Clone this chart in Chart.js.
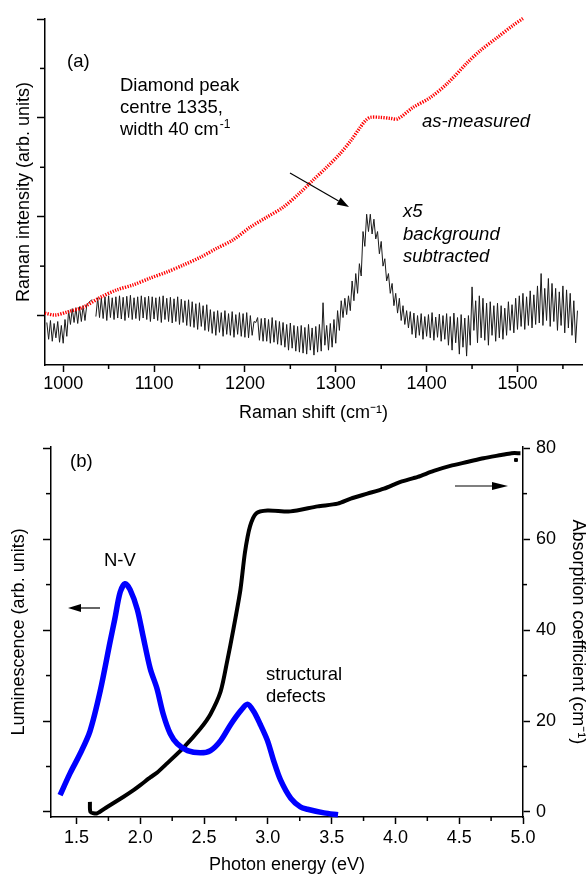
<!DOCTYPE html>
<html><head><meta charset="utf-8">
<script src="https://cdn.jsdelivr.net/npm/chart.js@4.4.1/dist/chart.umd.min.js"></script>
<style>
html,body{margin:0;padding:0;background:#fff;width:586px;height:876px;overflow:hidden}
canvas{position:absolute;left:0}
#c1{top:0}
#c2{top:430px}
</style></head><body>
<canvas id="c1" width="586" height="430"></canvas>
<canvas id="c2" width="586" height="446"></canvas>
<script>
// ---------- Panel (a): Raman ----------
const ramanStart = 982;   // cm-1, first sample
const ramanStep = 2;      // cm-1 between samples
const ramanBgSub = [
  .86,.52,.90,.48,.84,.55,.88,.46,.80,.44,
  .92,.58,1.10,.82,1.14,.86,1.16,.84,1.18,.88,
  1.20,.90,1.22,1.26,1.30,1.32,null,.98,1.36,.96,
  1.36,.94,1.38,.90,1.40,.96,1.36,.92,1.38,.95,
  1.40,.93,1.37,.90,1.39,.96,1.41,.92,1.36,.94,
  1.38,.90,1.40,.95,1.37,.92,1.39,.88,1.38,.93,
  1.36,.90,1.38,.86,1.40,.92,1.35,.88,1.37,.85,
  1.34,.88,1.38,.82,1.33,.86,1.30,.80,1.32,.78,
  1.28,.76,1.24,.72,1.26,.78,1.20,.70,1.22,.68,
  1.12,.64,1.08,.60,1.10,.66,1.06,.58,1.10,.62,
  1.04,.60,1.08,.56,1.02,.62,1.06,.58,1.04,.56,
  1.06,.55,1.00,.60,.88,.86,.96,.50,.94,.48,
  .95,.48,.92,.44,.96,.46,.90,.42,.88,.40,
  .86,.36,.82,.30,.85,.34,.80,.28,.78,.26,
  .80,.24,.76,.22,.82,.30,.75,.20,.78,.26,
  .82,.28,1.26,.40,.80,.30,.84,.36,.92,.44,
  1.10,.70,1.30,.96,1.35,1.02,1.40,1.10,1.70,1.30,
  1.85,1.45,2.05,1.80,2.70,2.40,3.05,2.70,3.05,2.65,
  2.95,2.55,2.70,2.25,2.50,2.00,2.15,1.70,1.85,1.45,
  1.65,1.20,1.45,1.05,1.35,.90,1.20,.82,1.10,.75,
  1.08,.62,1.05,.55,1.00,.60,1.04,.52,.98,.58,
  1.02,.55,1.06,.50,.97,.56,1.03,.48,1.00,.52,
  1.04,.40,.98,.30,1.05,.45,.96,.22,1.02,.36,
  .95,.18,1.00,.40,1.58,.70,1.30,.45,1.40,.55,
  1.35,.50,1.25,.40,1.28,.60,1.20,.48,1.25,.55,
  1.20,.52,1.15,.60,1.28,.70,1.22,.65,1.35,.72,
  1.40,.78,1.45,.72,1.38,.80,1.50,.75,1.42,.82,
  1.60,.85,1.85,.80,1.55,.90,1.75,.78,1.65,.88,
  1.55,.70,1.48,.80,1.60,.65,1.52,.75,1.45,.60,
  1.30,.45,1.10
];
const measuredX = [980,991,1004,1022,1041,1059,1077,1096,1114,1132,1151,1169,1187,1206,1224,1242,1261,1275,1290,1305,1317,1327,1333,1338,1349,1360,1368,1385,1404,1423,1445,1459,1478,1495,1506];
const measuredY = [1.05,1.01,1.07,1.17,1.37,1.52,1.62,1.76,1.88,2.02,2.18,2.36,2.53,2.79,2.99,3.19,3.49,3.74,4.00,4.28,4.55,4.81,4.95,5.01,5.01,4.99,4.98,5.21,5.41,5.70,6.12,6.36,6.63,6.87,7.01];
const ramanXTicks = [1000,1100,1200,1300,1400,1500];
const ramanXMinor = [1050,1150,1250,1350,1450,1550];
const ramanYTicks = [1,3,5,7];
const ramanYMinor = [2,4,6];

// ---------- Panel (b): luminescence & absorption ----------
const lumX = [1.371,1.449,1.528,1.606,1.685,1.763,1.800,1.842,1.881,1.920,1.976,2.020,2.078,2.130,2.180,2.235,2.290,2.370,2.470,2.550,2.630,2.710,2.785,2.840,2.887,2.940,2.997,3.045,3.100,3.180,3.256,3.310,3.440,3.550];
const lumY = [3.7,8.5,12.8,17.8,26.5,37.4,42.4,48.3,50.2,48.9,44.6,38.9,31.5,27.2,21.5,17.2,15.0,13.5,13.0,13.5,15.7,19.3,22.2,23.7,22.2,19.3,15.7,11.3,7.0,3.0,1.1,0.6,-0.2,-0.6];
const absX = [1.605,1.610,1.661,1.740,1.866,1.947,2.000,2.078,2.133,2.210,2.337,2.470,2.550,2.630,2.680,2.730,2.785,2.820,2.860,2.910,2.997,3.177,3.390,3.547,3.650,3.780,3.910,4.040,4.175,4.300,4.430,4.570,4.690,4.830,4.910,4.980];
const absY = [2.2,0.0,-0.3,1.1,3.3,4.8,5.9,7.6,8.7,10.7,14.1,18.3,21.5,26.5,33.0,40.2,48.9,57.0,62.8,65.7,66.3,66.1,67.2,67.8,68.9,70.0,71.1,72.6,73.7,75.0,76.1,77.0,77.8,78.5,78.9,78.9];
const absOutlierX = [4.945];
const absOutlierY = [77.4];
const energyTicks = [1.5,2.0,2.5,3.0,3.5,4.0,4.5,5.0];
const energyMinor = [1.75,2.25,2.75,3.25,3.75,4.25,4.75];
const absTicks = [0,20,40,60,80];
const absMinor = [10,30,50,70];

// ---------- helpers ----------
const FONT = '"Liberation Sans", Arial, Helvetica, sans-serif';
Chart.defaults.font.family = FONT;
Chart.defaults.font.size = 18;
Chart.defaults.color = '#000';

const zip = (xs, ys) => xs.map((x, i) => ({x, y: ys[i]}));
const setTicks = arr => s => { s.ticks = arr.map(v => ({value: v})); };

const minorTickPlugin = {
  id: 'minorTicks',
  afterDraw(chart, args, opts) {
    const ctx = chart.ctx;
    ctx.save();
    ctx.strokeStyle = '#000';
    ctx.lineWidth = 1.5;
    (opts.items || []).forEach(cfg => {
      const s = chart.scales[cfg.scale];
      cfg.values.forEach(v => {
        const p = s.getPixelForValue(v);
        ctx.beginPath();
        if (s.isHorizontal()) { ctx.moveTo(p, s.top); ctx.lineTo(p, s.top + cfg.len); }
        else if (s.position === 'left') { ctx.moveTo(s.right, p); ctx.lineTo(s.right - cfg.len, p); }
        else { ctx.moveTo(s.left, p); ctx.lineTo(s.left + cfg.len, p); }
        ctx.stroke();
      });
    });
    ctx.restore();
  }
};

const annotPlugin = {
  id: 'annot',
  afterDraw(chart, args, opts) {
    const ctx = chart.ctx;
    ctx.save();
    ctx.fillStyle = '#000';
    ctx.textBaseline = 'alphabetic';
    ctx.textAlign = 'left';
    (opts.texts || []).forEach(t => {
      ctx.font = (t.italic ? 'italic ' : '') + (t.size || 18.5) + 'px ' + FONT;
      ctx.fillText(t.text, t.x, t.y);
      if (t.sup) {
        const w = ctx.measureText(t.text).width;
        ctx.font = '12px ' + FONT;
        ctx.fillText(t.sup, t.x + w + 1, t.y - 7);
      }
    });
    ctx.strokeStyle = '#000';
    ctx.lineWidth = 1.2;
    (opts.arrows || []).forEach(a => {
      const ang = Math.atan2(a.y2 - a.y1, a.x2 - a.x1);
      const L = a.head || 12, W = a.half || 4;
      const bx = a.x2 - L * Math.cos(ang), by = a.y2 - L * Math.sin(ang);
      ctx.beginPath(); ctx.moveTo(a.x1, a.y1); ctx.lineTo(bx, by); ctx.stroke();
      ctx.beginPath();
      ctx.moveTo(a.x2, a.y2);
      ctx.lineTo(bx + W * Math.sin(ang), by - W * Math.cos(ang));
      ctx.lineTo(bx - W * Math.sin(ang), by + W * Math.cos(ang));
      ctx.closePath(); ctx.fill();
    });
    ctx.restore();
  }
};

const gridOpts = len => ({drawOnChartArea: false, drawTicks: true, tickLength: len, tickColor: '#000', tickWidth: 1.5});
const borderOpts = {display: true, color: '#000', width: 1.5};

// ---------- Chart (a) ----------
new Chart(document.getElementById('c1'), {
  type: 'line',
  data: {
    datasets: [
      {label: 'x5 background subtracted', data: ramanBgSub.map((v, i) => ({x: ramanStart + i * ramanStep, y: v})),
       borderColor: '#1a1a1a', borderWidth: 1, pointRadius: 0, spanGaps: false, order: 2},
      {label: 'as-measured', data: zip(measuredX, measuredY),
       borderColor: '#ff0000', borderWidth: 3.4, borderDash: [1.3, 1.3], pointRadius: 0, tension: 0.3, clip: 6, order: 1}
    ]
  },
  options: {
    responsive: false, animation: false, devicePixelRatio: 1,
    layout: {padding: {top: 19, right: 4, left: 0, bottom: 0}},
    plugins: {
      legend: {display: false}, tooltip: {enabled: false},
      minorTicks: {items: [{scale: 'x', values: ramanXMinor, len: 4}, {scale: 'y', values: ramanYMinor, len: 5}]},
      annot: {
        texts: [
          {text: '(a)', x: 67, y: 67},
          {text: 'Diamond peak', x: 120, y: 91},
          {text: 'centre 1335,', x: 120, y: 113},
          {text: 'width 40 cm', x: 120, y: 135, sup: '-1'},
          {text: 'as-measured', x: 422, y: 127, italic: true},
          {text: 'x5', x: 403, y: 217, italic: true},
          {text: 'background', x: 403, y: 240, italic: true},
          {text: 'subtracted', x: 403, y: 262, italic: true}
        ],
        arrows: [{x1: 290, y1: 173, x2: 349, y2: 207, head: 12, half: 4}]
      }
    },
    scales: {
      x: {type: 'linear', min: 980, max: 1571,
          afterBuildTicks: setTicks(ramanXTicks), afterFit: s => { s.height = 65; },
          grid: gridOpts(7), border: borderOpts,
          ticks: {padding: 1, autoSkip: false, maxRotation: 0, callback: v => String(v)},
          title: {display: true, text: 'Raman shift (cm⁻¹)', padding: {top: 0, bottom: 6}}},
      y: {type: 'linear', min: 0, max: 7,
          afterBuildTicks: setTicks(ramanYTicks), afterFit: s => { s.width = 45; },
          grid: gridOpts(8), border: borderOpts,
          ticks: {display: false},
          title: {display: true, text: 'Raman intensity (arb. units)', padding: {top: 13, bottom: 0}}}
    }
  },
  plugins: [minorTickPlugin, annotPlugin]
});

// ---------- Chart (b) ----------
new Chart(document.getElementById('c2'), {
  type: 'line',
  data: {
    datasets: [
      {label: 'Luminescence', data: zip(lumX, lumY), yAxisID: 'yL',
       borderColor: '#0000ff', borderWidth: 5.5, pointRadius: 0, tension: 0.3, order: 1, clip: 6},
      {label: 'Absorption coefficient', data: zip(absX, absY), yAxisID: 'yR',
       borderColor: '#000', borderWidth: 4, pointRadius: 0, tension: 0.25, order: 2, clip: 6},
      {label: 'Absorption outlier', data: zip(absOutlierX, absOutlierY), yAxisID: 'yR', showLine: false,
       pointStyle: 'rect', pointRadius: 2, backgroundColor: '#000', borderColor: '#000', order: 3}
    ]
  },
  options: {
    responsive: false, animation: false, devicePixelRatio: 1,
    layout: {padding: {top: 13, right: 0, left: 0, bottom: 0}},
    plugins: {
      legend: {display: false}, tooltip: {enabled: false},
      minorTicks: {items: [{scale: 'x', values: energyMinor, len: 4}, {scale: 'yL', values: absMinor, len: 5}, {scale: 'yR', values: absMinor, len: 4}]},
      annot: {
        texts: [
          {text: '(b)', x: 70, y: 37},
          {text: 'N-V', x: 104, y: 136},
          {text: 'structural', x: 266, y: 250},
          {text: 'defects', x: 266, y: 272}
        ],
        arrows: [
          {x1: 100, y1: 178, x2: 68, y2: 178, head: 13, half: 4},
          {x1: 455, y1: 56, x2: 508, y2: 56, head: 16, half: 4}
        ]
      }
    },
    scales: {
      x: {type: 'linear', min: 1.3, max: 5.0,
          afterBuildTicks: setTicks(energyTicks), afterFit: s => { s.height = 59; },
          grid: gridOpts(7), border: borderOpts,
          ticks: {padding: 3, autoSkip: false, maxRotation: 0, callback: v => v.toFixed(1)},
          title: {display: true, text: 'Photon energy (eV)', padding: {top: 0, bottom: 0}}},
      yL: {type: 'linear', position: 'left', min: -1.1, max: 80.3,
           afterBuildTicks: setTicks(absTicks), afterFit: s => { s.width = 51; },
           grid: gridOpts(8), border: borderOpts,
           ticks: {display: false},
           title: {display: true, text: 'Luminescence (arb. units)', padding: {top: 8, bottom: 0}}},
      yR: {type: 'linear', position: 'right', min: -1.1, max: 80.3,
           afterBuildTicks: setTicks(absTicks), afterFit: s => { s.width = 63; },
           grid: gridOpts(7), border: borderOpts,
           ticks: {padding: 6, autoSkip: false, callback: v => String(v)},
           title: {display: true, text: 'Absorption coefficient (cm⁻¹)', padding: {top: -3, bottom: 0}}}
    }
  },
  plugins: [minorTickPlugin, annotPlugin]
});
</script>
</body></html>
